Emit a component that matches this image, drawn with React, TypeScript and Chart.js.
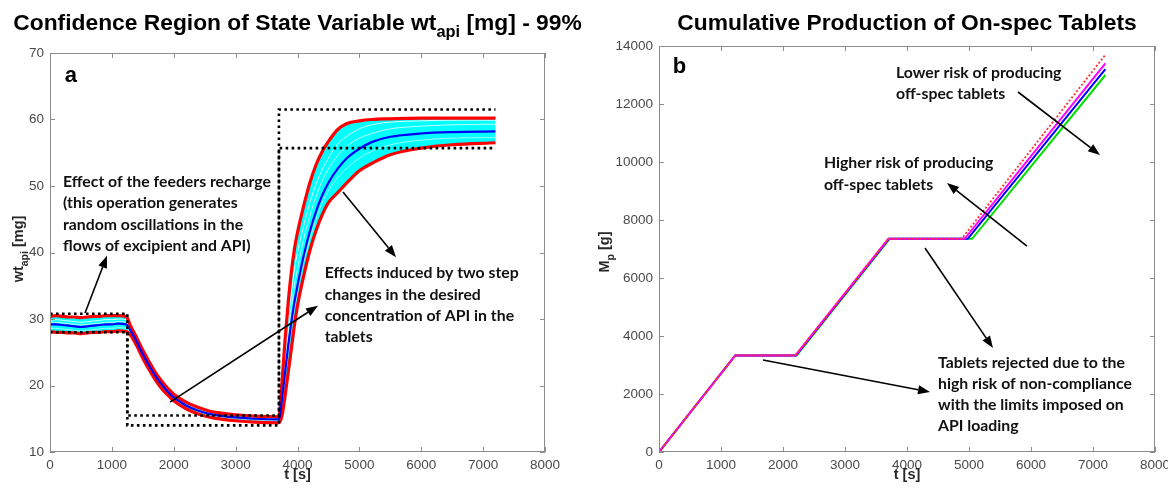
import React, { useEffect, useRef } from "react";
import { Chart, registerables } from "chart.js";

Chart.register(...registerables);

// ---------- Panel a: wt_api [mg] ----------
const TIME_A = [0, 100, 200, 300, 400, 500, 600, 700, 800, 900, 1000, 1100, 1230, 1300, 1400, 1500, 1600, 1700, 1800, 1900, 2000, 2200, 2400, 2600, 2800, 3000, 3300, 3700, 3750, 3800, 3850, 3900, 3950, 4000, 4100, 4200, 4300, 4400, 4500, 4650, 4800, 5000, 5200, 5500, 6000, 6500, 7200];
const WT_MEAN = [29.2, 29.2, 29.1, 29.0, 28.9, 28.8, 28.9, 29.0, 29.1, 29.2, 29.2, 29.3, 29.2, 28.3, 26.6, 24.7, 23.0, 21.5, 20.2, 19.1, 18.2, 17.0, 16.2, 15.7, 15.4, 15.2, 15.0, 14.9, 18, 22, 26, 29.5, 32.5, 35, 39.5, 43.2, 46.2, 48.6, 50.5, 52.6, 54.2, 55.6, 56.6, 57.4, 57.9, 58.1, 58.2];
const WT_UPPER = [30.4, 30.5, 30.4, 30.3, 30.3, 30.2, 30.3, 30.4, 30.4, 30.5, 30.5, 30.5, 30.4, 29.0, 27.2, 25.3, 23.6, 22.0, 20.7, 19.6, 18.7, 17.5, 16.7, 16.1, 15.8, 15.6, 15.4, 15.3, 20.5, 27, 32.5, 37, 40.5, 43, 47, 50.5, 53.2, 55.2, 56.7, 58.5, 59.4, 59.8, 60.0, 60.1, 60.2, 60.2, 60.2];
const WT_LOWER = [28.1, 28.0, 28.0, 27.9, 27.9, 27.8, 27.9, 28.0, 28.0, 28.1, 28.1, 28.2, 28.1, 27.6, 26.0, 24.1, 22.4, 20.9, 19.6, 18.6, 17.7, 16.5, 15.7, 15.2, 14.9, 14.7, 14.5, 14.4, 15.5, 18.5, 22, 25.5, 29, 32, 36.5, 40.3, 43.3, 45.7, 47.5, 49.0, 50.5, 52.3, 53.4, 54.7, 55.7, 56.2, 56.5];
const WT_SAMPLE_1 = [29.8, 29.9, 29.8, 29.7, 29.6, 29.5, 29.6, 29.7, 29.8, 29.9, 29.9, 30.0, 29.9, 28.7, 26.9, 25.0, 23.3, 21.8, 20.5, 19.4, 18.5, 17.3, 16.5, 15.9, 15.6, 15.4, 15.2, 15.1, 19.5, 25, 30, 34, 37.5, 40, 44, 47.5, 50.3, 52.5, 54.2, 56.3, 57.5, 58.6, 59.2, 59.6, 59.8, 59.9, 59.9];
const WT_SAMPLE_2 = [29.5, 29.5, 29.4, 29.3, 29.2, 29.1, 29.2, 29.3, 29.4, 29.5, 29.5, 29.6, 29.5, 28.4, 26.7, 24.8, 23.1, 21.6, 20.3, 19.2, 18.3, 17.1, 16.3, 15.8, 15.5, 15.3, 15.1, 15.0, 18.8, 23.5, 28, 31.7, 35, 37.5, 42, 45.5, 48.4, 50.8, 52.6, 54.6, 56, 57.2, 57.9, 58.6, 59, 59.2, 59.3];
const WT_SAMPLE_3 = [28.6, 28.6, 28.5, 28.4, 28.3, 28.2, 28.3, 28.4, 28.5, 28.6, 28.6, 28.7, 28.6, 28.0, 26.3, 24.4, 22.7, 21.2, 19.9, 18.8, 18.0, 16.8, 16.0, 15.5, 15.2, 15.0, 14.8, 14.7, 17, 21, 25, 28.5, 31.5, 34, 38.5, 42, 45, 47.5, 49.3, 51.3, 52.7, 54.2, 55.2, 56.2, 56.9, 57.2, 57.3];
const LIMIT_TIME = [0, 1250, 1250, 3700, 3700, 7200];
const LIMIT_UPPER = [30.8, 30.8, 15.5, 15.5, 61.5, 61.5];
const LIMIT_LOWER = [28, 28, 14, 14, 55.7, 55.7];

// ---------- Panel b: M_p [g] ----------
const TIME_B_RED = [0, 1230, 2200, 3700, 4880, 7200];
const MP_RED = [0, 3330, 3330, 7350, 7350, 13700];
const TIME_B_MAGENTA = [0, 1230, 2200, 3700, 4930, 7200];
const MP_MAGENTA = [0, 3330, 3330, 7350, 7350, 13400];
const TIME_B_BLUE = [0, 1230, 2210, 3710, 4980, 7200];
const MP_BLUE = [0, 3330, 3330, 7350, 7350, 13200];
const TIME_B_GREEN = [0, 1230, 2220, 3720, 5050, 7200];
const MP_GREEN = [0, 3330, 3330, 7350, 7350, 13000];

// ---------- Texts ----------
const TITLE_A = [{ text: "Confidence Region of State Variable wt" }, { text: "api", sub: true }, { text: " [mg] - 99%" }];
const TITLE_B = [{ text: "Cumulative Production of On-spec Tablets" }];
const YLABEL_A = [{ text: "wt" }, { text: "api", sub: true }, { text: " [mg]" }];
const YLABEL_B = [{ text: "M" }, { text: "p", sub: true }, { text: " [g]" }];
const XLABEL = [{ text: "t [s]" }];
const NOTE_A_RECHARGE = ["Effect of the feeders recharge", "(this operation generates", "random oscillations in the", "flows of excipient and API)"];
const NOTE_A_STEP = ["Effects induced by two step", "changes in the desired", "concentration of API in the", "tablets"];
const NOTE_B_LOWER = ["Lower risk of producing", "off-spec tablets"];
const NOTE_B_HIGHER = ["Higher risk of producing", "off-spec tablets"];
const NOTE_B_REJECT = ["Tablets rejected due to the", "high risk of non-compliance", "with the limits imposed on", "API loading"];

const AXIS_COLOR = "#8c8c8c";
const TICK_COLOR = "#4a4a4a";
const SANS = "'Liberation Sans', Arial, sans-serif";
const NOTE_FONT = "bold 15.8px Lato, 'Open Sans', sans-serif";

type Seg = { text: string; sub?: boolean };

function drawRich(ctx: CanvasRenderingContext2D, segs: Seg[], x: number, y: number, size: number, align: "center" | "left") {
  const subSize = size * 0.72;
  const fontMain = `bold ${size}px ${SANS}`;
  const fontSub = `bold ${subSize}px ${SANS}`;
  let total = 0;
  const widths = segs.map((s) => {
    ctx.font = s.sub ? fontSub : fontMain;
    const w = ctx.measureText(s.text).width;
    total += w;
    return w;
  });
  let cx = align === "center" ? x - total / 2 : x;
  ctx.textAlign = "left";
  ctx.textBaseline = "alphabetic";
  segs.forEach((s, i) => {
    ctx.font = s.sub ? fontSub : fontMain;
    ctx.fillText(s.text, cx, s.sub ? y + size * 0.32 : y);
    cx += widths[i];
  });
}

function drawArrow(ctx: CanvasRenderingContext2D, x1: number, y1: number, x2: number, y2: number) {
  const ang = Math.atan2(y2 - y1, x2 - x1);
  const hl = 12;
  const hw = 4.5;
  const bx = x2 - hl * Math.cos(ang);
  const by = y2 - hl * Math.sin(ang);
  ctx.strokeStyle = "#000";
  ctx.fillStyle = "#000";
  ctx.lineWidth = 1.6;
  ctx.beginPath();
  ctx.moveTo(x1, y1);
  ctx.lineTo(bx, by);
  ctx.stroke();
  ctx.beginPath();
  ctx.moveTo(x2, y2);
  ctx.lineTo(bx + hw * Math.sin(ang), by - hw * Math.cos(ang));
  ctx.lineTo(bx - hw * Math.sin(ang), by + hw * Math.cos(ang));
  ctx.closePath();
  ctx.fill();
}

type Note = { t: number; v: number; lines: string[]; lh: number };
type Arrow = { from: [number, number]; to: [number, number] };
type Spec = {
  key: string;
  title: Seg[];
  ylabel: Seg[];
  ylabelX: number;
  ylabelY: number;
  letter: string;
  letterAt: [number, number];
  notes: Note[];
  arrows: Arrow[];
};

function decorPlugin(spec: Spec) {
  return {
    id: "decor_" + spec.key,
    afterDraw(chart: any) {
      const { ctx, chartArea: a, scales } = chart;
      const xs = scales.x;
      const ys = scales.y;
      ctx.save();
      // box
      ctx.strokeStyle = AXIS_COLOR;
      ctx.lineWidth = 1;
      ctx.strokeRect(a.left + 0.5, a.top + 0.5, a.right - a.left - 1, a.bottom - a.top - 1);
      ctx.beginPath();
      xs.ticks.forEach((tk: any) => {
        const px = Math.round(xs.getPixelForValue(tk.value)) + 0.5;
        ctx.moveTo(px, a.bottom);
        ctx.lineTo(px, a.bottom - 5);
        ctx.moveTo(px, a.top);
        ctx.lineTo(px, a.top + 5);
      });
      ys.ticks.forEach((tk: any) => {
        const py = Math.round(ys.getPixelForValue(tk.value)) + 0.5;
        ctx.moveTo(a.left, py);
        ctx.lineTo(a.left + 5, py);
        ctx.moveTo(a.right, py);
        ctx.lineTo(a.right - 5, py);
      });
      ctx.stroke();

      const cx = (a.left + a.right) / 2;
      ctx.fillStyle = "#000";
      // title
      drawRich(ctx, spec.title, cx, 30, 22.8, "center");
      // x label
      ctx.fillStyle = "#262626";
      drawRich(ctx, XLABEL, cx, 479, 14.5, "center");
      // y label
      ctx.save();
      ctx.translate(spec.ylabelX, spec.ylabelY);
      ctx.rotate(-Math.PI / 2);
      drawRich(ctx, spec.ylabel, 0, 0, 14.5, "center");
      ctx.restore();

      // panel letter
      ctx.fillStyle = "#000";
      ctx.font = `bold 22px ${SANS}`;
      ctx.textAlign = "left";
      ctx.textBaseline = "alphabetic";
      ctx.fillText(spec.letter, xs.getPixelForValue(spec.letterAt[0]), ys.getPixelForValue(spec.letterAt[1]));

      // notes
      ctx.fillStyle = "#111";
      ctx.font = NOTE_FONT;
      ctx.textBaseline = "middle";
      spec.notes.forEach((n) => {
        const x = xs.getPixelForValue(n.t);
        const y0 = ys.getPixelForValue(n.v);
        n.lines.forEach((ln, i) => ctx.fillText(ln, x, y0 + i * n.lh));
      });
      spec.arrows.forEach((ar) => {
        drawArrow(
          ctx,
          xs.getPixelForValue(ar.from[0]),
          ys.getPixelForValue(ar.from[1]),
          xs.getPixelForValue(ar.to[0]),
          ys.getPixelForValue(ar.to[1])
        );
      });
      ctx.restore();
    },
  };
}

function pts(xs: number[], ys: number[]) {
  return xs.map((x, i) => ({ x, y: ys[i] }));
}

const plain = (v: any) => String(v);

function baseOptions(yMin: number, yMax: number, yStep: number, padding: any, yWidth: number) {
  const tickFont = { family: SANS, size: 13.5 };
  return {
    responsive: false,
    animation: false as const,
    events: [],
    layout: { padding, autoPadding: false },
    plugins: {
      legend: { display: false },
      tooltip: { enabled: false },
      title: { display: false },
      filler: { drawTime: "beforeDatasetsDraw" },
    },
    elements: { point: { radius: 0, hoverRadius: 0 } },
    scales: {
      x: {
        type: "linear",
        min: 0,
        max: 8000,
        ticks: { stepSize: 1000, padding: 5, font: tickFont, color: TICK_COLOR, maxRotation: 0, autoSkip: false, callback: plain },
        grid: { display: false, drawTicks: false },
        border: { display: false },
        afterFit: (s: any) => {
          s.height = 40;
        },
      },
      y: {
        type: "linear",
        min: yMin,
        max: yMax,
        ticks: { stepSize: yStep, padding: 6, font: tickFont, color: TICK_COLOR, autoSkip: false, callback: plain },
        grid: { display: false, drawTicks: false },
        border: { display: false },
        afterFit: (s: any) => {
          s.width = yWidth;
        },
      },
    },
  };
}

export default function App() {
  const refA = useRef<HTMLCanvasElement>(null);
  const refB = useRef<HTMLCanvasElement>(null);

  useEffect(() => {
    const curve = { cubicInterpolationMode: "monotone" as const, pointRadius: 0, fill: false };
    const chartA = new Chart(refA.current!, {
      type: "line",
      data: {
        datasets: [
          { data: pts(LIMIT_TIME, LIMIT_UPPER), borderColor: "#000", borderWidth: 2.6, borderDash: [2.6, 3.4], pointRadius: 0, fill: false },
          { data: pts(LIMIT_TIME, LIMIT_LOWER), borderColor: "#000", borderWidth: 2.6, borderDash: [2.6, 3.4], pointRadius: 0, fill: false },
          { data: pts(TIME_A, WT_MEAN), borderColor: "#0000ff", borderWidth: 2.2, ...curve },
          { data: pts(TIME_A, WT_UPPER), borderColor: "#ff0000", borderWidth: 3.2, ...curve, fill: "+1", backgroundColor: "#00ffff" },
          { data: pts(TIME_A, WT_LOWER), borderColor: "#ff0000", borderWidth: 3.2, ...curve },
          { data: pts(TIME_A, WT_SAMPLE_1), borderColor: "rgba(255,255,255,0.85)", borderWidth: 1, ...curve },
          { data: pts(TIME_A, WT_SAMPLE_2), borderColor: "rgba(255,255,255,0.75)", borderWidth: 1, ...curve },
          { data: pts(TIME_A, WT_SAMPLE_3), borderColor: "rgba(255,255,255,0.6)", borderWidth: 1, ...curve },
        ],
      },
      options: baseOptions(10, 70, 10, { left: 6, right: 50, top: 53, bottom: 0 }, 44) as any,
      plugins: [
        decorPlugin({
          key: "a",
          title: TITLE_A,
          ylabel: YLABEL_A,
          ylabelX: 23,
          ylabelY: 249,
          letter: "a",
          letterAt: [240, 65.6],
          notes: [
            { t: 210, v: 50.6, lines: NOTE_A_RECHARGE, lh: 21.3 },
            { t: 4440, v: 36.9, lines: NOTE_A_STEP, lh: 21.3 },
          ],
          arrows: [
            { from: [566, 30.9], to: [921, 39.5] },
            { from: [1939, 17.5], to: [4331, 32.0] },
            { from: [4735, 49.1], to: [5592, 39.3] },
          ],
        }),
      ],
    });

    const chartB = new Chart(refB.current!, {
      type: "line",
      data: {
        datasets: [
          { data: pts(TIME_B_RED, MP_RED), borderColor: "#ff3030", borderWidth: 1.8, borderDash: [2, 2], pointRadius: 0, fill: false },
          { data: pts(TIME_B_MAGENTA, MP_MAGENTA), borderColor: "#ff00ff", borderWidth: 2, pointRadius: 0, fill: false },
          { data: pts(TIME_B_BLUE, MP_BLUE), borderColor: "#0000ff", borderWidth: 2, pointRadius: 0, fill: false },
          { data: pts(TIME_B_GREEN, MP_GREEN), borderColor: "#00e000", borderWidth: 2, pointRadius: 0, fill: false },
        ],
      },
      options: baseOptions(0, 14000, 2000, { left: 0, right: 40, top: 46, bottom: 0 }, 64) as any,
      plugins: [
        decorPlugin({
          key: "b",
          title: TITLE_B,
          ylabel: YLABEL_B,
          ylabelX: 14,
          ylabelY: 252,
          letter: "b",
          letterAt: [220, 13069],
          notes: [
            { t: 3823, v: 13062, lines: NOTE_B_LOWER, lh: 21 },
            { t: 2660, v: 9966, lines: NOTE_B_HIGHER, lh: 21.5 },
            { t: 4500, v: 3069, lines: NOTE_B_REJECT, lh: 20.8 },
          ],
          arrows: [
            { from: [5790, 12414], to: [7113, 10241] },
            { from: [5935, 7103], to: [4645, 9276] },
            { from: [4290, 7034], to: [5387, 3586] },
            { from: [1677, 3172], to: [4371, 2069] },
          ],
        }),
      ],
    });

    return () => {
      chartA.destroy();
      chartB.destroy();
    };
  }, []);

  return (
    <div style={{ position: "absolute", left: 0, top: 0, width: 1168, height: 492, background: "#fff", overflow: "hidden" }}>
      <canvas ref={refA} width={595} height={492} style={{ position: "absolute", left: 0, top: 0, width: 595, height: 492 }} />
      <canvas ref={refB} width={600} height={492} style={{ position: "absolute", left: 595, top: 0, width: 600, height: 492 }} />
    </div>
  );
}
